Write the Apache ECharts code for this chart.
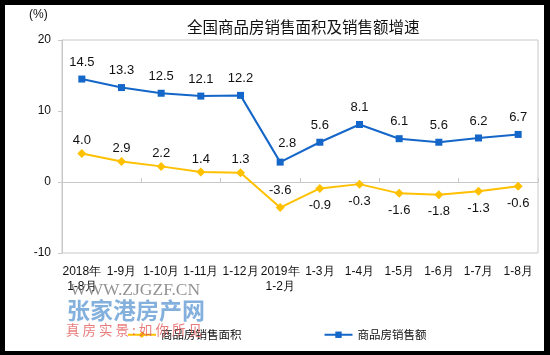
<!DOCTYPE html>
<html><head><meta charset="utf-8">
<script src="https://cdn.jsdelivr.net/npm/echarts@6/dist/echarts.min.js"></script>
<style>html,body{margin:0;padding:0;background:#fff}#c{width:550px;height:355px}</style>
</head><body><div id="c"></div>
<script>
var categories = ['2018年\n1-8月','1-9月','1-10月','1-11月','1-12月','2019年\n1-2月','1-3月','1-4月','1-5月','1-6月','1-7月','1-8月'];
var areaGrowth = [4.0, 2.9, 2.2, 1.4, 1.3, -3.6, -0.9, -0.3, -1.6, -1.8, -1.3, -0.6];
var salesGrowth = [14.5, 13.3, 12.5, 12.1, 12.2, 2.8, 5.6, 8.1, 6.1, 5.6, 6.2, 6.7];
var yTicks = {min: -10, max: 20, interval: 10};
var seriesNames = ['商品房销售面积', '商品房销售额'];
var titleText = '全国商品房销售面积及销售额增速';

var font = '"Liberation Sans", Arial, sans-serif';
var cjk = '"Noto Sans CJK SC", sans-serif';
var chart = echarts.init(document.getElementById('c'), null, {renderer: 'canvas'});

var areaData = areaGrowth.map(function (v, i) {
  var lab;
  if (i < 5) lab = {position: 'top', distance: 2};
  else if (i === 5) lab = {position: 'top', distance: 6};
  else lab = {position: 'bottom', distance: 6};
  return {value: v, label: lab};
});
var salesData = salesGrowth.map(function (v, i) {
  if (i === 5) return {value: v, label: {position: 'top', distance: 9, offset: [7, 0]}};
  return {value: v};
});

chart.setOption({
  animation: false,
  backgroundColor: '#fff',
  title: {
    text: titleText, left: 182, top: 14,
    textStyle: {fontFamily: cjk, fontSize: 15.5, fontWeight: 'normal', color: '#111'}
  },
  grid: {left: 62, right: 12, top: 40, bottom: 102, show: true, borderColor: '#c8c8c8', borderWidth: 1, containLabel: false},
  legend: {
    left: 122, top: 324, itemGap: 82, itemWidth: 28, itemHeight: 8,
    textStyle: {fontFamily: cjk, fontSize: 11.5, color: '#111'},
    data: seriesNames
  },
  xAxis: [{
    type: 'category', data: categories, boundaryGap: true,
    axisLine: {show: false, onZero: false},
    axisTick: {show: false},
    axisLabel: {interval: 0, margin: 11, fontFamily: font, fontSize: 12, color: '#111', lineHeight: 15}
  }, {
    type: 'category', data: categories, boundaryGap: true, position: 'bottom',
    axisLine: {show: true, onZero: true, lineStyle: {color: '#c8c8c8', width: 1}},
    axisTick: {show: true, inside: true, length: 4, lineStyle: {color: '#c8c8c8'}},
    axisLabel: {show: false}
  }],
  yAxis: {
    type: 'value', min: yTicks.min, max: yTicks.max, interval: yTicks.interval,
    axisLine: {show: true, lineStyle: {color: '#c8c8c8'}},
    axisTick: {show: true, length: 4, lineStyle: {color: '#c8c8c8'}},
    splitLine: {show: false},
    axisLabel: {margin: 11, fontFamily: font, fontSize: 12, color: '#111'}
  },
  series: [{
    name: seriesNames[0], type: 'line', data: areaData,
    symbol: 'diamond', symbolSize: 9,
    lineStyle: {color: '#ffc000', width: 2},
    itemStyle: {color: '#ffc000'},
    label: {show: true, fontFamily: font, fontSize: 13, color: '#111', formatter: function (p) { return p.value.toFixed(1); }}
  }, {
    name: seriesNames[1], type: 'line', data: salesData,
    symbol: 'rect', symbolSize: 7,
    lineStyle: {color: '#1466c9', width: 2},
    itemStyle: {color: '#1466c9'},
    label: {show: true, position: 'top', distance: 7, fontFamily: font, fontSize: 13, color: '#111', formatter: function (p) { return p.value.toFixed(1); }}
  }],
  graphic: [
    {type: 'text', left: 29, top: 9, style: {text: '(%)', font: '12px ' + font, fill: '#111'}},
    {type: 'text', left: 70, top: 281, z: 10, style: {text: 'WWW.ZJGZF.CN', font: '17.5px "Liberation Serif", serif', fill: 'rgba(110,110,110,0.75)'}},
    {type: 'text', left: 67, top: 299, z: 10, style: {text: '张家港房产网', font: 'bold 23px ' + cjk, fill: 'rgba(90,150,210,0.75)'}},
    {type: 'text', left: 66, top: 323, z: 10, style: {text: '真 房 实 景 : 如 你 所 见', font: '13.5px ' + cjk, fill: 'rgba(225,80,80,0.75)'}},
    {type: 'rect', shape: {x: 0, y: 0, width: 550, height: 5}, style: {fill: '#000'}, z: 100},
    {type: 'rect', shape: {x: 0, y: 0, width: 5, height: 355}, style: {fill: '#000'}, z: 100},
    {type: 'rect', shape: {x: 544, y: 0, width: 6, height: 355}, style: {fill: '#000'}, z: 100},
    {type: 'rect', shape: {x: 0, y: 351, width: 550, height: 4}, style: {fill: '#000'}, z: 100}
  ]
});
</script></body></html>
